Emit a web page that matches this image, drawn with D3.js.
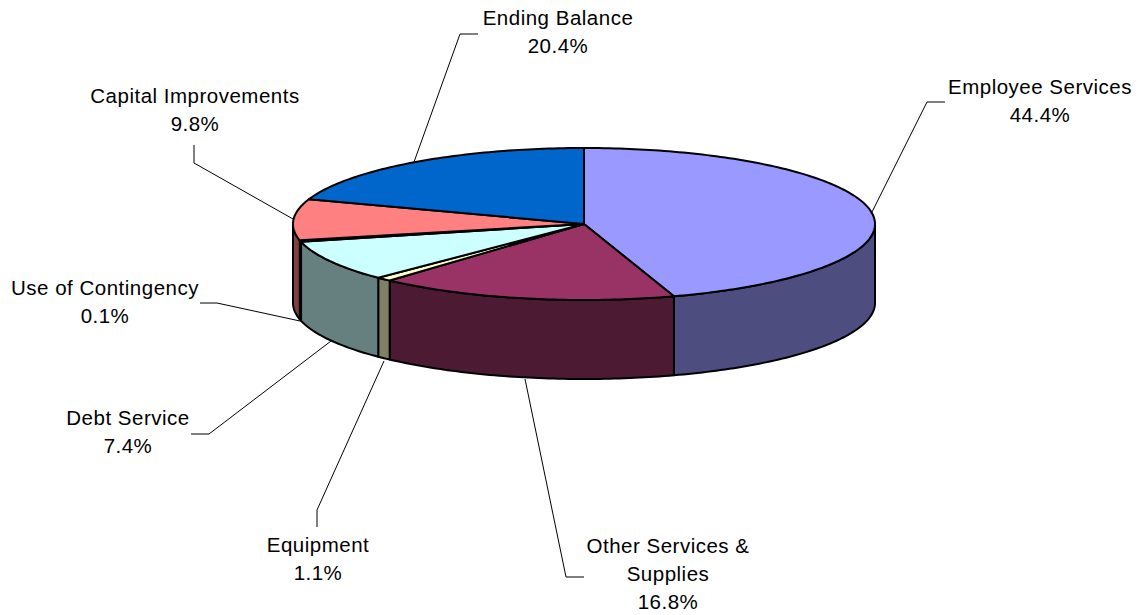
<!DOCTYPE html>
<html>
<head>
<meta charset="utf-8">
<style>
  html, body { margin: 0; padding: 0; background: #fff; }
  svg { display: block; }
  text { font-family: "Liberation Sans", Arial, sans-serif; font-size: 20.5px; letter-spacing: 0.5px; fill: #000; }
</style>
<script src="https://cdn.jsdelivr.net/npm/d3@7/dist/d3.min.js"></script>
</head>
<body>
<svg id="chart" width="1140" height="615"></svg>
<script>
// Budget shares, clockwise from twelve o'clock.
const categories = ["Employee Services", "Other Services & Supplies", "Equipment", "Debt Service",
                    "Use of Contingency", "Capital Improvements", "Ending Balance"];
const shares = [44.4, 16.8, 1.1, 7.4, 0.1, 9.8, 20.4];
const topColors = ["#9999ff", "#993366", "#ffffcc", "#ccffff", "#660066", "#ff8080", "#0066cc"];
const sideColors = ["#4d4d80", "#4d1a33", "#808066", "#668080", "#330033", "#804040", "#003366"];

// Label text lines, per category.
const labelLines = [["Employee Services"], ["Other Services &", "Supplies"], ["Equipment"], ["Debt Service"],
                    ["Use of Contingency"], ["Capital Improvements"], ["Ending Balance"]];

// Disc geometry.
const cx = 584, cy = 224, rx = 291, ry = 76, depth = 79;

// Where each label block sits and the elbow of its leader line.
const labelAnchors = [
  [1040, 94], [668, 553], [318, 552], [128, 425], [105, 295], [195, 103], [558, 25]
];
const leaderPaths = [
  [[871, 214], [927, 102], [945, 102]],
  [[525, 379], [566, 577], [584, 577]],
  [[384, 361], [317, 510], [317, 527]],
  [[331, 341], [209, 434], [191, 434]],
  [[300, 321], [217, 303], [200, 303]],
  [[293, 219], [194, 163], [194, 145]],
  [[414, 162], [460, 34], [478, 34]]
];

const svg = d3.select("#chart");

// Cumulative share to angle around the tilted disc.
const angle = d3.scaleLinear()
  .domain([0, 44.4, 61.2, 62.3, 69.7, 69.8, 79.6, 100])
  .range([0, 162, 221.9, 225, 256.5, 257.6, 289, 360]);

const rad = d => d * Math.PI / 180;
const px = a => cx + rx * Math.sin(rad(a));
const py = a => cy - ry * Math.cos(rad(a));

const cumulative = d3.cumsum(shares);
const slices = shares.map((v, i) => ({
  i,
  start: angle(i ? cumulative[i - 1] : 0),
  end: angle(Math.min(cumulative[i], 100))
}));

const line = d3.line();
const outlineWidth = 2;

// Points along the rim between two angles.
function rim(a0, a1, dy = 0) {
  const n = Math.max(2, Math.ceil(Math.abs(a1 - a0)));
  return d3.range(n + 1).map(k => {
    const a = a0 + (a1 - a0) * k / n;
    return [px(a), py(a) + dy];
  });
}

// Side walls: only the front half of the rim (90° to 270°) is visible.
slices.forEach(s => {
  const a0 = Math.max(s.start, 90), a1 = Math.min(s.end, 270);
  if (a1 <= a0) return;
  const pts = rim(a0, a1).concat(rim(a1, a0, depth));
  svg.append("path")
    .attr("d", line(pts) + "Z")
    .attr("fill", sideColors[s.i])
    .attr("stroke", "#000")
    .attr("stroke-width", outlineWidth)
    .attr("stroke-linejoin", "round");
});

// Top faces.
slices.forEach(s => {
  const pts = [[cx, cy]].concat(rim(s.start, s.end));
  svg.append("path")
    .attr("d", line(pts) + "Z")
    .attr("fill", topColors[s.i])
    .attr("stroke", "#000")
    .attr("stroke-width", outlineWidth)
    .attr("stroke-linejoin", "round");
});

// Leader lines.
svg.append("g").selectAll("path").data(leaderPaths).join("path")
  .attr("d", d => line(d))
  .attr("fill", "none")
  .attr("stroke", "#000")
  .attr("stroke-width", 1);

// Labels: name lines followed by the percentage.
categories.forEach((c, i) => {
  const lines = labelLines[i].concat(shares[i].toFixed(1) + "%");
  const t = svg.append("text")
    .attr("text-anchor", "middle")
    .attr("x", labelAnchors[i][0])
    .attr("y", labelAnchors[i][1]);
  lines.forEach((l, k) => {
    t.append("tspan")
      .attr("x", labelAnchors[i][0])
      .attr("dy", k ? 28 : 0)
      .text(l);
  });
});
</script>
</body>
</html>
